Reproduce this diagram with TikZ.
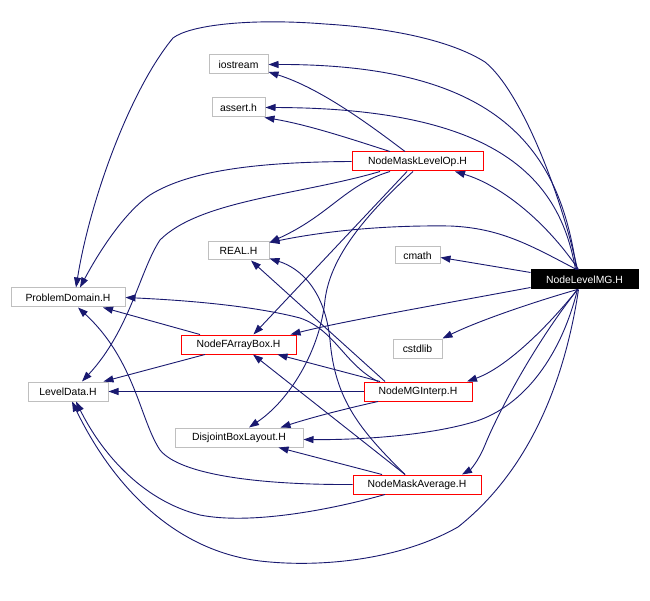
\documentclass[tikz,border=0pt]{standalone}
\usepackage{fontspec}
\setmainfont{Liberation Sans}
\usetikzlibrary{arrows.meta}
\definecolor{edgec}{HTML}{191970}
\definecolor{boxgray}{HTML}{BFBFBF}
\begin{document}
\begin{tikzpicture}[x=1pt,y=-1pt,
  box/.style={draw=boxgray,line width=1pt,rectangle,inner sep=0pt,minimum height=19pt,font=\fontsize{10.4}{12}\selectfont},
  redbox/.style={box,draw=red},
  blackbox/.style={box,draw=black,fill=black,text=white},
  edge/.style={draw=edgec,line width=0.9pt,-{Triangle[length=10pt,width=7pt]}}]
\useasboundingbox[fill=white] (0,0) rectangle (650,601);
% nodes
\node[box,minimum width=59pt] (io) at (238.5,64.5) {iostream};
\node[box,minimum width=53pt] (as) at (238.5,107.5) {assert.h};
\node[redbox,minimum width=131pt] (nmlo) at (417.5,161.5) {NodeMaskLevelOp.H};
\node[box,minimum width=61pt,minimum height=18pt] (real) at (238.5,251) {REAL.H};
\node[box,minimum width=45pt,minimum height=17pt] (cmath) at (417.5,255.5) {cmath};
\node[blackbox,minimum width=107pt] (nlmg) at (584.5,279.5) {NodeLevelMG.H};
\node[box,minimum width=114pt] (pd) at (68,297.5) {ProblemDomain.H};
\node[redbox,minimum width=115pt] (nfab) at (238.5,344.5) {NodeFArrayBox.H};
\node[box,minimum width=49pt] (cstd) at (417.5,348.5) {cstdlib};
\node[box,minimum width=80pt] (ld) at (68,391.5) {LevelData.H};
\node[redbox,minimum width=108pt] (nmgi) at (418,391.5) {NodeMGInterp.H};
\node[box,minimum width=128pt] (dbl) at (239,437.5) {DisjointBoxLayout.H};
\node[redbox,minimum width=128pt] (nma) at (417,484.5) {NodeMaskAverage.H};
% NodeLevelMG.H
\draw[edge] ([xshift=-8pt]nlmg.north) .. controls (560,150) and (500,64) .. (io.east);
\draw[edge] ([xshift=-9pt]nlmg.north) .. controls (560,180) and (500,108) .. (as.east);
\draw[edge] ([xshift=-7pt]nlmg.north) .. controls (560,190) and (520,90) .. (485,62)
  .. controls (450,40) and (390,28) .. (325,24) .. controls (250,18) and (190,25) .. (173,38)
  .. controls (130,90) and (90,200) .. ([xshift=8pt]pd.north);
\draw[edge] ([xshift=-6pt]nlmg.north) .. controls (545,220) and (500,185) .. ([xshift=37.5pt]nmlo.south);
\draw[edge] ([xshift=-8pt]nlmg.north) .. controls (530,245) and (500,228) .. (450,226)
  .. controls (380,225) and (320,232) .. ([yshift=-1pt]real.north east);
\draw[edge] ([yshift=7pt]nlmg.west) -- ([yshift=-2pt]cmath.east);
\draw[edge] ([yshift=-8pt]nlmg.west) .. controls (420,308) and (340,322) .. ([xshift=-6pt]nfab.north east);
\draw[edge] ([xshift=-7pt]nlmg.south) .. controls (540,300) and (480,320) .. (cstd.north east);
\draw[edge] ([xshift=-7pt]nlmg.south) .. controls (545,330) and (505,368) .. ([xshift=49pt]nmgi.north);
\draw[edge] ([xshift=-6pt]nlmg.south) .. controls (565,380) and (530,470) .. (458,527)
  .. controls (400,560) and (320,568) .. (260,561) .. controls (170,550) and (110,480) .. ([xshift=4pt]ld.south);
\draw[edge] ([xshift=-7pt]nlmg.south) .. controls (560,360) and (520,410) .. (470,423)
  .. controls (420,437) and (350,440) .. ([yshift=-2pt]dbl.east);
\draw[edge] ([xshift=-7pt]nlmg.south) .. controls (530,350) and (495,420) .. (485,445)
  .. controls (478,462) and (470,470) .. ([xshift=45pt]nma.north);
% NodeMaskLevelOp.H
\draw[edge] ([xshift=-12.5pt]nmlo.north) .. controls (370,125) and (320,88) .. ([yshift=-7.5pt]io.east);
\draw[edge] ([xshift=-27.5pt]nmlo.north) .. controls (360,142) and (310,125) .. ([xshift=-1pt]as.south east);
\draw[edge] ([xshift=-27.5pt]nmlo.south) .. controls (345,185) and (330,215) .. ([yshift=-1pt]real.north east);
\draw[edge] (nmlo.west) .. controls (260,162) and (190,170) .. (150,195)
  .. controls (125,212) and (100,250) .. ([xshift=12pt]pd.north);
\draw[edge] ([xshift=-37.5pt]nmlo.south) .. controls (300,195) and (200,200) .. (160,240)
  .. controls (140,270) and (130,330) .. ([xshift=14pt]ld.north);
\draw[edge] ([xshift=-10.5pt]nmlo.south) -- ([xshift=15pt]nfab.north);
\draw[edge] ([xshift=-4.5pt]nmlo.south) .. controls (360,220) and (330,260) .. (325,300)
  .. controls (320,350) and (290,400) .. ([xshift=10pt]dbl.north);
% NodeMGInterp.H
\draw[edge] ([xshift=-33pt]nmgi.north) -- ([xshift=12.5pt]real.south);
\draw[edge] ([xshift=-40pt]nmgi.north) .. controls (345,365) and (335,330) .. (300,318)
  .. controls (250,305) and (180,300) .. (pd.east);
\draw[edge] ([xshift=-38pt]nmgi.north) -- ([xshift=-19pt]nfab.south east);
\draw[edge] (nmgi.west) -- (ld.east);
\draw[edge] ([xshift=-40pt]nmgi.south) .. controls (340,410) and (310,418) .. ([xshift=-23pt]dbl.north east);
% NodeMaskAverage.H
\draw[edge] ([xshift=-12pt]nma.north) .. controls (360,430) and (335,400) .. (330,340)
  .. controls (325,290) and (300,268) .. ([yshift=2pt]real.south east);
\draw[edge] ([xshift=-12pt]nma.north) -- ([xshift=14.5pt]nfab.south);
\draw[edge] ([xshift=-35pt]nma.north) -- ([xshift=-25pt]dbl.south east);
\draw[edge] (nma.west) .. controls (260,485) and (180,475) .. (160,450)
  .. controls (140,420) and (135,360) .. ([xshift=10pt]pd.south);
\draw[edge] ([xshift=-32pt]nma.south) .. controls (330,510) and (250,525) .. (200,515)
  .. controls (140,500) and (100,450) .. ([xshift=8pt]ld.south);
% NodeFArrayBox.H
\draw[edge] ([xshift=-38.5pt]nfab.north) -- ([xshift=35pt]pd.south);
\draw[edge] ([xshift=-33.5pt]nfab.south) -- ([xshift=-5pt]ld.north east);
\end{tikzpicture}
\end{document}
